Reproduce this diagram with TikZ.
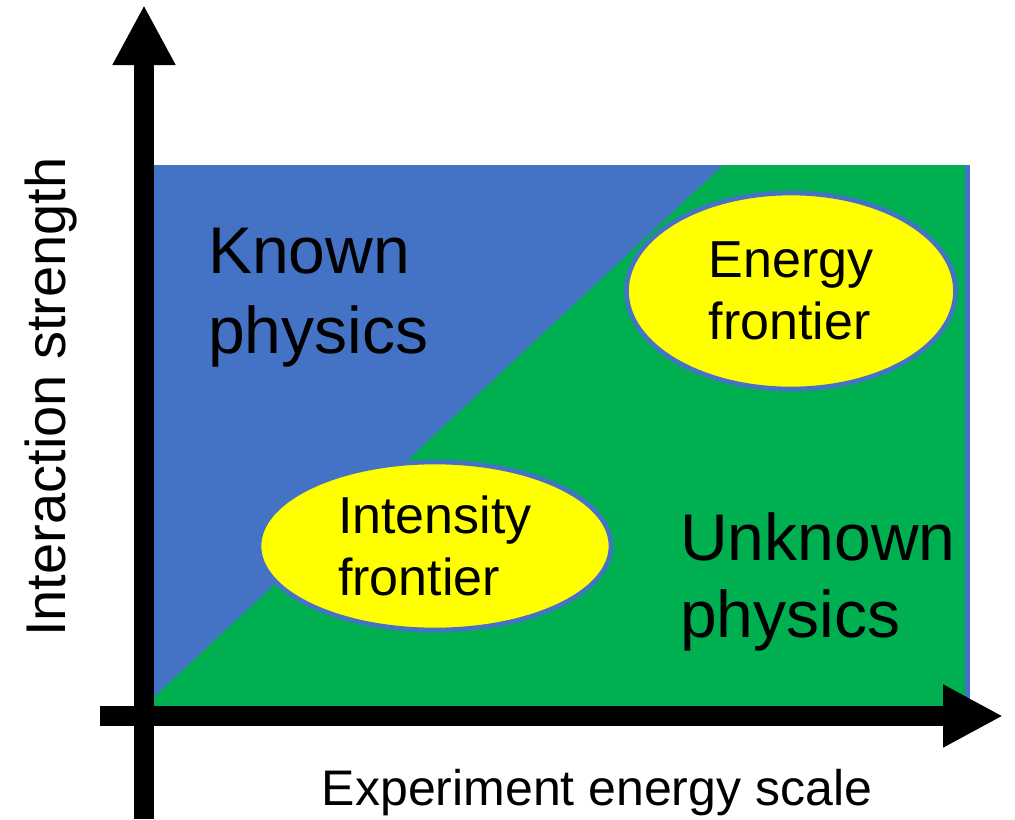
\documentclass[tikz,border=0pt]{standalone}
\usepackage{fontspec}
\setmainfont{Liberation Sans}
\usetikzlibrary{arrows.meta,shapes.geometric}
\definecolor{kblue}{HTML}{4472C4}
\definecolor{kgreen}{HTML}{00B050}
\definecolor{kyellow}{HTML}{FFFF00}
\begin{document}
\begin{tikzpicture}[x=0.75pt,y=-0.75pt,
  axis/.style={line width=15pt, -{Triangle[length=45pt,width=44pt]}},
  frontier/.style={ellipse, draw=kblue, line width=3.5pt, fill=kyellow, inner sep=0pt,
    align=left, font=\fontsize{39}{46.5}\selectfont},
  region/.style={anchor=base west, inner sep=0pt, align=left},
  axislabel/.style={inner sep=0pt, anchor=base}]
\useasboundingbox (0,0) rectangle (1015,819);
% regions
\fill[kgreen] (154,165) rectangle (968,708);
\fill[kblue] (965,165) rectangle (970,708);
\fill[kblue] (154,165) -- (723,165) -- (154,697) -- cycle;
% frontiers
\node[frontier, minimum width=246.75pt, minimum height=147pt] (energy) at (791,291) {Energy\\frontier};
\node[frontier, minimum width=264pt, minimum height=126pt] (intensity) at (435,546) {Intensity\\frontier};
% region labels
\node[region, font=\fontsize{49.5}{60}\selectfont] (known) at (208,353) {Known\\physics};
\node[region, font=\fontsize{49.5}{57.75}\selectfont] (unknown) at (680,637) {Unknown\\physics};
% axes
\coordinate (yfoot) at (144,819);
\coordinate (ytip) at (144,5);
\coordinate (xfoot) at (100,716);
\coordinate (xtip) at (1003,716);
\draw[axis] (yfoot) -- (ytip);
\draw[axis] (xfoot) -- (xtip);
% axis labels
\node[axislabel, rotate=90, font=\fontsize{42}{50}\selectfont] (ylabel) at (65,397) {Interaction strength};
\node[axislabel, font=\fontsize{37.5}{45}\selectfont] (xlabel) at (597,805) {Experiment energy scale};
\end{tikzpicture}
\end{document}
